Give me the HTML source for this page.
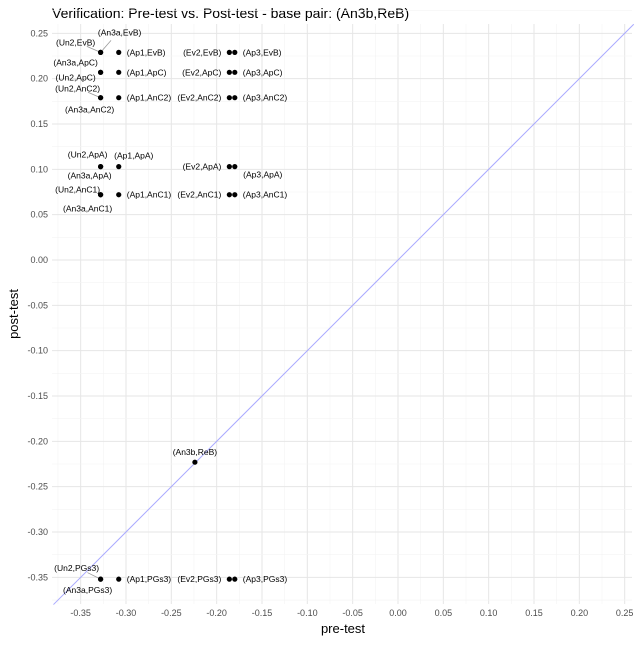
<!DOCTYPE html>
<html><head><meta charset="utf-8"><style>
body{margin:0;background:#fff;font-family:"Liberation Sans",Arial,sans-serif}
svg text{font-family:"Liberation Sans",Arial,sans-serif}
</style></head><body>
<svg id="chart" width="640" height="640" xmlns="http://www.w3.org/2000/svg">
<text x="52" y="18" font-size="14" fill="#000">Verification: Pre-test vs. Post-test - base pair: (An3b,ReB)</text>
<g id="grid"></g><g id="axes"></g><g id="marks"></g>
<text x="343" y="633" font-size="13" text-anchor="middle">pre-test</text>
<text transform="translate(18,314) rotate(-90)" font-size="13" text-anchor="middle">post-test</text>
</svg>
<script>
const labels=["(Un2,EvB)","(An3a,EvB)","(Ap1,EvB)","(Ev2,EvB)","(Ap3,EvB)",
"(An3a,ApC)","(Un2,ApC)","(Ap1,ApC)","(Ev2,ApC)","(Ap3,ApC)",
"(Un2,AnC2)","(An3a,AnC2)","(Ap1,AnC2)","(Ev2,AnC2)","(Ap3,AnC2)",
"(Un2,ApA)","(An3a,ApA)","(Ap1,ApA)","(Ev2,ApA)","(Ap3,ApA)",
"(Un2,AnC1)","(An3a,AnC1)","(Ap1,AnC1)","(Ev2,AnC1)","(Ap3,AnC1)",
"(Un2,PGs3)","(An3a,PGs3)","(Ap1,PGs3)","(Ev2,PGs3)","(Ap3,PGs3)","(An3b,ReB)"];
const preTest=[-0.328,-0.328,-0.308,-0.186,-0.180,
-0.328,-0.328,-0.308,-0.186,-0.180,
-0.328,-0.328,-0.308,-0.186,-0.180,
-0.328,-0.328,-0.308,-0.186,-0.180,
-0.328,-0.328,-0.308,-0.186,-0.180,
-0.328,-0.328,-0.308,-0.186,-0.180,-0.224];
const postTest=[0.229,0.229,0.229,0.229,0.229,
0.207,0.207,0.207,0.207,0.207,
0.179,0.179,0.179,0.179,0.179,
0.103,0.103,0.103,0.103,0.103,
0.072,0.072,0.072,0.072,0.072,
-0.352,-0.352,-0.352,-0.352,-0.352,-0.223];
const xTicks=[-0.35,-0.30,-0.25,-0.20,-0.15,-0.10,-0.05,0.00,0.05,0.10,0.15,0.20,0.25];
const yTicks=[-0.35,-0.30,-0.25,-0.20,-0.15,-0.10,-0.05,0.00,0.05,0.10,0.15,0.20,0.25];
// label layout offsets (px from point): dx,dy,anchor,leader
const layout=[[-25,-10,"middle",1],[19,-20,"middle",1],[8,0,"start",0],[-8,0,"end",0],[8,0,"start",0],
[-25,-10,"middle",0],[-25,5,"middle",0],[8,0,"start",0],[-8,0,"end",0],[8,0,"start",0],
[-23,-9,"middle",1],[-11,12,"middle",0],[8,0,"start",0],[-8,0,"end",0],[8,0,"start",0],
[-13,-12,"middle",0],[-11,9,"middle",0],[15,-11,"middle",0],[-8,0,"end",0],[28,8,"middle",0],
[-23,-5,"middle",0],[-13,14,"middle",0],[8,0,"start",0],[-8,0,"end",0],[8,0,"start",0],
[-24,-11,"middle",1],[-13,11,"middle",0],[8,0,"start",0],[-8,0,"end",0],[8,0,"start",0],[0,-10,"middle",0]];
const NS="http://www.w3.org/2000/svg";
const K=906.7,X0=398,Y0=260,L=52,R=632,T=24,B=604;
const sx=v=>X0+v*K, sy=v=>Y0-v*K;
function mk(t,a,p){const e=document.createElementNS(NS,t);for(const k in a)e.setAttribute(k,a[k]);p.appendChild(e);return e;}
const grid=document.getElementById('grid'),axes=document.getElementById('axes'),marks=document.getElementById('marks');
const bg=mk('rect',{x:L,y:T,width:R-L,height:B-T,fill:'#fff'},grid);


xTicks.forEach(v=>{
 const m=mk('line',{x1:sx(v+0.025),x2:sx(v+0.025),y1:T,y2:B,stroke:'#f3f3f3','stroke-width':0.6},grid);
 
 
 const g=mk('line',{x1:sx(v),x2:sx(v),y1:T,y2:B,stroke:'#e6e6e6','stroke-width':1},grid);
 
 
 const t=mk('text',{x:sx(v),y:B+12,'font-size':9,fill:'#4d4d4d','text-anchor':'middle'},axes);t.textContent=v.toFixed(2);
 
 
});
mk('line',{x1:sx(-0.375),x2:sx(-0.375),y1:T,y2:B,stroke:'#f3f3f3','stroke-width':0.6},grid);
yTicks.forEach(v=>{
 const m=mk('line',{x1:L,x2:R,y1:sy(v+0.025),y2:sy(v+0.025),stroke:'#f3f3f3','stroke-width':0.6},grid);
 
 
 const g=mk('line',{x1:L,x2:R,y1:sy(v),y2:sy(v),stroke:'#e6e6e6','stroke-width':1},grid);
 
 
 const t=mk('text',{x:L-4,y:sy(v)+3,'font-size':9,fill:'#4d4d4d','text-anchor':'end'},axes);t.textContent=v.toFixed(2);
 
 
});
mk('line',{x1:L,x2:R,y1:sy(-0.375),y2:sy(-0.375),stroke:'#f3f3f3','stroke-width':0.6},grid);
const d=mk('line',{x1:sx(-0.38),y1:sy(-0.38),x2:sx(0.26),y2:sy(0.26),stroke:'#aaaaff','stroke-width':1},marks);


labels.forEach((lab,i)=>{
 const px=sx(preTest[i]),py=sy(postTest[i]);const [dx,dy,anc,ld]=layout[i];
 if(ld){const l=mk('line',{x1:px+dx*0.55,y1:py+dy*0.6,x2:px,y2:py,stroke:'#999','stroke-width':0.8},marks);
  
  }
 const c=mk('circle',{cx:px,cy:py,r:2.6,fill:'#000'},marks);
 
 
 const t=mk('text',{x:px+dx,y:py+dy+3,'font-size':8.5,fill:'#000','text-anchor':anc},marks);t.textContent=lab;
 
 
});
</script>
</body></html>
